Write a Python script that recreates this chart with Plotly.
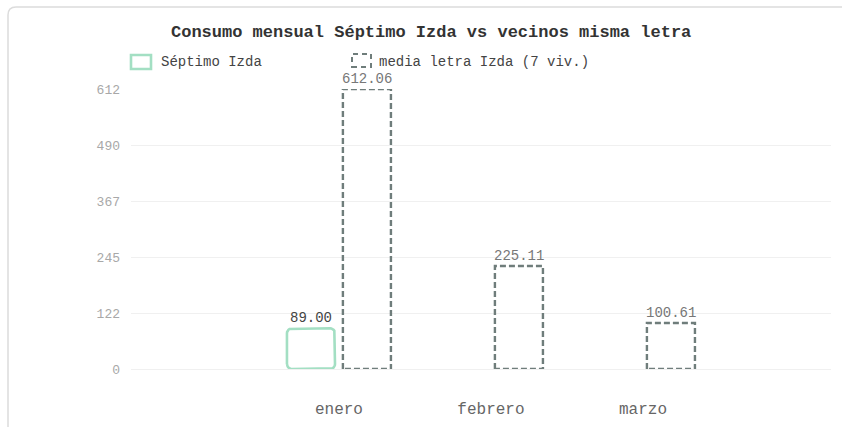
import math
import plotly.graph_objects as go

# --- data -------------------------------------------------------------
months = ["enero", "febrero", "marzo"]
septimo_izda = [89.00, None, None]
media_letra = [612.06, 225.11, 100.61]
y_max = 612.06
y_tick_values = [y_max * i / 5 for i in range(6)]
y_tick_labels = ["0", "122", "245", "367", "490", "612"]

series_a_name = "Séptimo Izda"
series_b_name = "media letra Izda (7 viv.)"
title_text = "Consumo mensual Séptimo Izda vs vecinos misma letra"

# --- styling ------------------------------------------------------------
FONT = "Liberation Mono"
GREEN = "#a3dfc3"
SLATE = "#6f7d7b"
GRID = "#f0f0f0"

W, H = 842, 427
M_L, M_R, M_T, M_B = 131, 11, 89, 58
PW, PH = W - M_L - M_R, H - M_T - M_B

# bar geometry in category units
BAR_W = 0.316
GAP = 0.026
X_RANGE = [-1.368, 3.237]
CORNER_PX = 5

x_idx = list(range(len(months)))

# pixel -> axis unit conversions for the rounded corners
UX = (X_RANGE[1] - X_RANGE[0]) / PW
UY = y_max / PH


def px_x(p):
    return (p - M_L) / PW


def px_y(p):
    return (H - M_B - p) / PH


def rounded_outline(x0, x1, v, r_px):
    """Closed outline of a bar from 0 to v with rounded corners."""
    rx, ry = r_px * UX, r_px * UY
    xs, ys = [], []
    corners = [
        (x0 + rx, 0 + ry, 180, 270),   # bottom-left
        (x1 - rx, 0 + ry, 270, 360),   # bottom-right
        (x1 - rx, v - ry, 0, 90),      # top-right
        (x0 + rx, v - ry, 90, 180),    # top-left
    ]
    for cx, cy, a0, a1 in corners:
        for k in range(7):
            a = math.radians(a0 + (a1 - a0) * k / 6)
            xs.append(cx + rx * math.cos(a))
            ys.append(cy + ry * math.sin(a))
    xs.append(xs[0])
    ys.append(ys[0])
    return xs, ys


fig = go.Figure()

# solid series: outlined bars with rounded corners
gx, gy = [], []
for i, v in zip(x_idx, septimo_izda):
    if v is None:
        continue
    xs, ys = rounded_outline(i - GAP - BAR_W, i - GAP, v, CORNER_PX)
    gx += xs + [None]
    gy += ys + [None]
fig.add_trace(go.Scatter(
    x=gx, y=gy, mode="lines", name=series_a_name,
    line=dict(color=GREEN, width=2.6),
    showlegend=False, hoverinfo="skip",
))

# dashed series: outlines traced through the data axes
bx, by = [], []
for i, v in zip(x_idx, media_letra):
    if v is None:
        continue
    x0, x1 = i + GAP, i + GAP + BAR_W
    bx += [x0, x0, x1, x1, x0, None]
    by += [0, v, v, 0, 0, None]
fig.add_trace(go.Scatter(
    x=bx, y=by, mode="lines", name=series_b_name,
    line=dict(color=SLATE, width=2.4, dash="6px,3px"),
    showlegend=False, hoverinfo="skip",
))

annotations = []
# value labels
for i, v in zip(x_idx, septimo_izda):
    if v is None:
        continue
    annotations.append(dict(x=i - GAP - BAR_W / 2, y=v, xref="x", yref="y",
                            text=f"{v:.2f}", showarrow=False, yanchor="bottom",
                            yshift=0, font=dict(family=FONT, size=14, color="#444")))
for i, v in zip(x_idx, media_letra):
    if v is None:
        continue
    annotations.append(dict(x=i + GAP + BAR_W / 2, y=v, xref="x", yref="y",
                            text=f"{v:.2f}", showarrow=False, yanchor="bottom",
                            yshift=0, font=dict(family=FONT, size=14, color="#777")))

# title
annotations.append(dict(x=px_x(431), y=px_y(32), xref="paper", yref="paper",
                        text=f"<b>{title_text}</b>", showarrow=False,
                        xanchor="center", yanchor="middle",
                        font=dict(family=FONT, size=17, color="#333")))

# legend entries
annotations.append(dict(x=px_x(159), y=px_y(62), xref="paper", yref="paper",
                        text=series_a_name, showarrow=False, xanchor="left",
                        yanchor="middle", font=dict(family=FONT, size=14, color="#444")))
annotations.append(dict(x=px_x(377), y=px_y(62), xref="paper", yref="paper",
                        text=series_b_name, showarrow=False, xanchor="left",
                        yanchor="middle", font=dict(family=FONT, size=14, color="#444")))

shapes = [
    # card outline
    dict(type="path", xref="paper", yref="paper",
         path=(f"M {px_x(8)},{px_y(H + 20)} L {px_x(8)},{px_y(15)} "
               f"Q {px_x(8)},{px_y(7)} {px_x(16)},{px_y(7)} L {px_x(W + 20)},{px_y(7)}"),
         line=dict(color="#dcdcdc", width=1.5), layer="below"),
    # legend swatches
    dict(type="rect", xref="paper", yref="paper",
         x0=px_x(131), x1=px_x(151), y0=px_y(69), y1=px_y(55),
         line=dict(color=GREEN, width=2.6), fillcolor="rgba(0,0,0,0)"),
    dict(type="rect", xref="paper", yref="paper",
         x0=px_x(352), x1=px_x(371), y0=px_y(67), y1=px_y(54),
         line=dict(color=SLATE, width=2, dash="5px,4px"), fillcolor="rgba(0,0,0,0)"),
]

fig.update_layout(
    width=W, height=H,
    margin=dict(l=M_L, r=M_R, t=M_T, b=M_B, autoexpand=False),
    paper_bgcolor="white", plot_bgcolor="white",
    showlegend=False,
    annotations=annotations,
    shapes=shapes,
    xaxis=dict(range=X_RANGE, tickvals=x_idx, ticktext=months,
               showgrid=False, zeroline=False, showline=False, ticks="",
               ticklabelstandoff=28,
               tickfont=dict(family=FONT, size=16, color="#666"), fixedrange=True),
    yaxis=dict(range=[0, y_max], tickvals=y_tick_values, ticktext=y_tick_labels,
               showgrid=True, gridcolor=GRID, gridwidth=1,
               zeroline=True, zerolinecolor=GRID, zerolinewidth=1,
               showline=False, ticks="", ticklabelstandoff=10,
               tickfont=dict(family=FONT, size=13, color="#a8a8a8"), fixedrange=True),
)

fig.write_html("out.html")
